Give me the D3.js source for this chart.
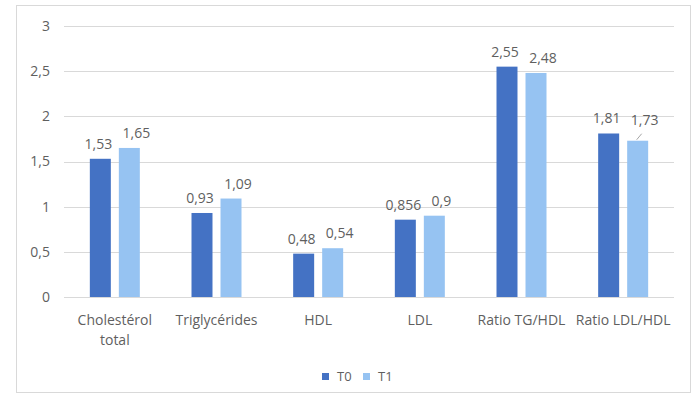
<!DOCTYPE html>
<html>
<head>
<meta charset="utf-8">
<script src="https://cdn.jsdelivr.net/npm/d3@7"></script>
<style>
  html, body { margin: 0; padding: 0; background: #fff; }
  svg { display: block; }
  text { font-family: "Open Sans", "Liberation Sans", sans-serif; fill: #5f5f5f; }
</style>
</head>
<body>
<svg id="chart" width="696" height="398"></svg>
<script>
// Lipid profile values at T0 and T1
const categories = [["Cholestérol", "total"], ["Triglycérides"], ["HDL"], ["LDL"], ["Ratio TG/HDL"], ["Ratio LDL/HDL"]];
const seriesNames = ["T0", "T1"];
const t0Values = [1.53, 0.93, 0.48, 0.856, 2.55, 1.81];
const t1Values = [1.65, 1.09, 0.54, 0.9, 2.48, 1.73];
const t0Labels = ["1,53", "0,93", "0,48", "0,856", "2,55", "1,81"];
const t1Labels = ["1,65", "1,09", "0,54", "0,9", "2,48", "1,73"];
const yTicks = [0, 0.5, 1, 1.5, 2, 2.5, 3];
const yTickLabels = ["0", "0,5", "1", "1,5", "2", "2,5", "3"];
const colors = ["#4472C4", "#96C3F2"];

const svg = d3.select("#chart");
const plot = { left: 64, right: 674, top: 26, bottom: 297 };

// outer frame
svg.append("rect")
  .attr("x", 16.5).attr("y", 5.5)
  .attr("width", 674).attr("height", 387)
  .attr("fill", "#fff").attr("stroke", "#d9d9d9").attr("stroke-width", 1);

const x0 = d3.scaleBand()
  .domain(d3.range(categories.length))
  .range([plot.left, plot.right]);

const x1 = d3.scaleBand()
  .domain(seriesNames)
  .range([x0.bandwidth() / 2 - 25, x0.bandwidth() / 2 + 25])
  .paddingInner(0.276).paddingOuter(0);

const y = d3.scaleLinear().domain([0, 3]).range([plot.bottom, plot.top]);

// gridlines
svg.append("g")
  .selectAll("line")
  .data(yTicks)
  .join("line")
  .attr("x1", plot.left).attr("x2", plot.right)
  .attr("y1", d => Math.round(y(d)) + 0.5).attr("y2", d => Math.round(y(d)) + 0.5)
  .attr("stroke", "#d9d9d9").attr("stroke-width", 1);

// y axis labels
const yAxis = d3.axisLeft(y)
  .tickValues(yTicks)
  .tickFormat((d, i) => yTickLabels[i])
  .tickSize(0).tickPadding(0);
const yg = svg.append("g")
  .attr("transform", `translate(${plot.left - 14},0)`)
  .call(yAxis);
yg.select(".domain").remove();
yg.selectAll("text")
  .style("font-size", "14px")
  .attr("fill", "#5f5f5f")
  .style("font-family", "'Open Sans', 'Liberation Sans', sans-serif");

// bars
const series = [t0Values, t1Values];
const seriesLabels = [t0Labels, t1Labels];
series.forEach((vals, s) => {
  svg.append("g")
    .selectAll("rect")
    .data(vals)
    .join("rect")
    .attr("x", (d, i) => x0(i) + x1(seriesNames[s]))
    .attr("y", d => y(d))
    .attr("width", x1.bandwidth())
    .attr("height", d => y(0) - y(d))
    .attr("fill", colors[s]);
});

// value labels: the second series sits a little to the right,
// and the last one is lifted with a leader line
const labelShift = [-2, 7];
const lifted = { s: 1, i: 5 };
series.forEach((vals, s) => {
  svg.append("g")
    .selectAll("text")
    .data(vals)
    .join("text")
    .attr("x", (d, i) => x0(i) + x1(seriesNames[s]) + x1.bandwidth() / 2 + labelShift[s])
    .attr("y", (d, i) => y(d) - ((s === lifted.s && i === lifted.i) ? 16 : 10))
    .attr("text-anchor", "middle")
    .style("font-size", "14px")
    .text((d, i) => seriesLabels[s][i]);
});

// leader line for the lifted label
{
  const cx = x0(lifted.i) + x1(seriesNames[lifted.s]) + x1.bandwidth() / 2;
  const top = y(series[lifted.s][lifted.i]);
  svg.append("line")
    .attr("x1", cx - 1).attr("y1", top - 1)
    .attr("x2", cx + 4).attr("y2", top - 7)
    .attr("stroke", "#a6a6a6").attr("stroke-width", 1);
}

// category labels
const cg = svg.append("g");
categories.forEach((lines, i) => {
  const cx = x0(i) + x0.bandwidth() / 2;
  const t = cg.append("text")
    .attr("x", cx)
    .attr("y", 325)
    .attr("text-anchor", "middle")
    .style("font-size", "14px");
  lines.forEach((ln, k) => {
    t.append("tspan")
      .attr("x", cx)
      .attr("dy", k === 0 ? 0 : 20)
      .text(ln);
  });
});

// legend
const legend = svg.append("g");
const legendItems = [{ name: "T0", x: 322 }, { name: "T1", x: 363 }];
legendItems.forEach((it, s) => {
  legend.append("rect")
    .attr("x", it.x).attr("y", 373)
    .attr("width", 7).attr("height", 7)
    .attr("fill", colors[s]);
  legend.append("text")
    .attr("x", it.x + 15).attr("y", 381)
    .style("font-size", "13px")
    .text(it.name);
});
</script>
</body>
</html>
